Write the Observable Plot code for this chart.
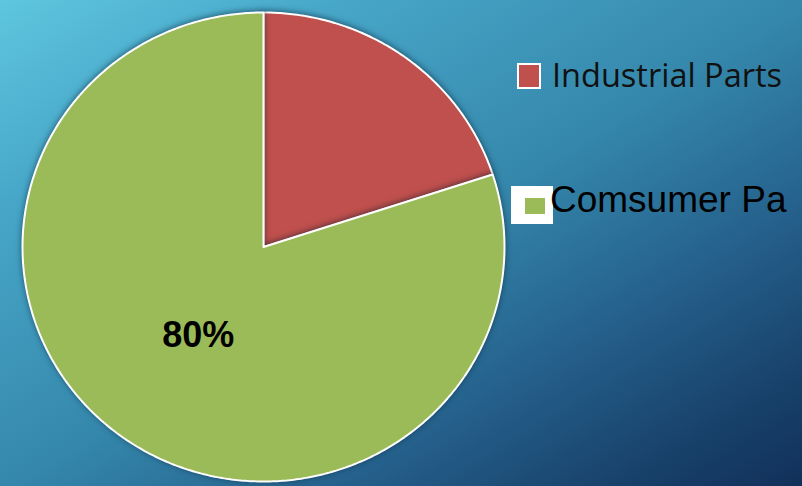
<!DOCTYPE html>
<html>
<head>
<meta charset="utf-8">
<script src="https://cdn.jsdelivr.net/npm/d3@7"></script>
<script src="https://cdn.jsdelivr.net/npm/@observablehq/plot@0.6"></script>
<style>
  html, body { margin: 0; padding: 0; }
  body { width: 802px; height: 486px; overflow: hidden; position: relative;
    background: linear-gradient(to bottom right, #5ec6de 0%, #47a6c8 22%, #3588ac 50%, #245f8a 72%, #18426b 88%, #11305a 100%); }
  #chart { position: absolute; left: 0; top: 0; }
  #chart svg { background: transparent; }
  #chart g[aria-label="line"] { filter: drop-shadow(0px -1px 3px rgba(0,20,40,0.55)); }
  .leg { position: absolute; white-space: nowrap; }
  .sw { position: absolute; }
</style>
</head>
<body>
<div id="chart"></div>
<div id="legend"></div>
<script>
const categories = ["Industrial Parts", "Comsumer Pa"];
const values = [20, 80];
const colors = ["#c0504d", "#9bbb59"];
const labels = ["", "80%"];

const pie = d3.pie().sort(null).value(d => d.value)(categories.map((c, i) => ({category: c, value: values[i], color: colors[i], label: labels[i]})));

// outline points of each slice, from the pie angles
const slices = pie.map(p => {
  const pts = [{x: 0, y: 0}];
  const n = Math.max(2, Math.ceil((p.endAngle - p.startAngle) / 0.01));
  for (let k = 0; k <= n; k++) {
    const a = p.startAngle + (p.endAngle - p.startAngle) * k / n;
    pts.push({x: Math.sin(a), y: Math.cos(a)});
  }
  pts.push({x: 0, y: 0});
  return {category: p.data.category, color: p.data.color, pts};
});
const labelData = pie.filter(p => p.data.label).map(p => {
  const a = (p.startAngle + p.endAngle) / 2;
  return {x: 0.46 * Math.sin(a), y: 0.46 * Math.cos(a), text: p.data.label};
});

const chart = Plot.plot({
  width: 802, height: 486,
  margin: 0,
  style: {background: "transparent"},
  x: {domain: [-1, 1], range: [22, 504], axis: null},
  y: {domain: [-1, 1], range: [481, 12], axis: null},
  marks: [
    ...slices.map(s => Plot.line(s.pts, {x: "x", y: "y", fill: s.color, stroke: "#ffffff", strokeWidth: 2, strokeLinejoin: "miter"})),
    Plot.text(labelData, {x: "x", y: "y", text: "text", fontSize: 36, fontWeight: "bold", fontFamily: "Liberation Sans, Arial, sans-serif", fill: "#000", dy: 1})
  ]
});
document.getElementById("chart").appendChild(chart);

// legend
const leg = document.getElementById("legend");
leg.innerHTML = `
  <div class="sw" style="left:517px;top:63px;width:20px;height:22px;background:${colors[0]};border:2px solid #fff;"></div>
  <div class="leg" style="left:552px;top:52px;font:32.5px 'Open Sans', sans-serif;color:#111;">${categories[0]}</div>
  <div class="sw" style="left:511px;top:186px;width:42px;height:38px;background:#fff;"></div>
  <div class="sw" style="left:525px;top:198px;width:20px;height:16px;background:${colors[1]};"></div>
  <div class="leg" style="left:550px;top:179px;font:37px 'Liberation Sans', Arial, sans-serif;color:#000;">${categories[1]}</div>
`;
</script>
</body>
</html>
